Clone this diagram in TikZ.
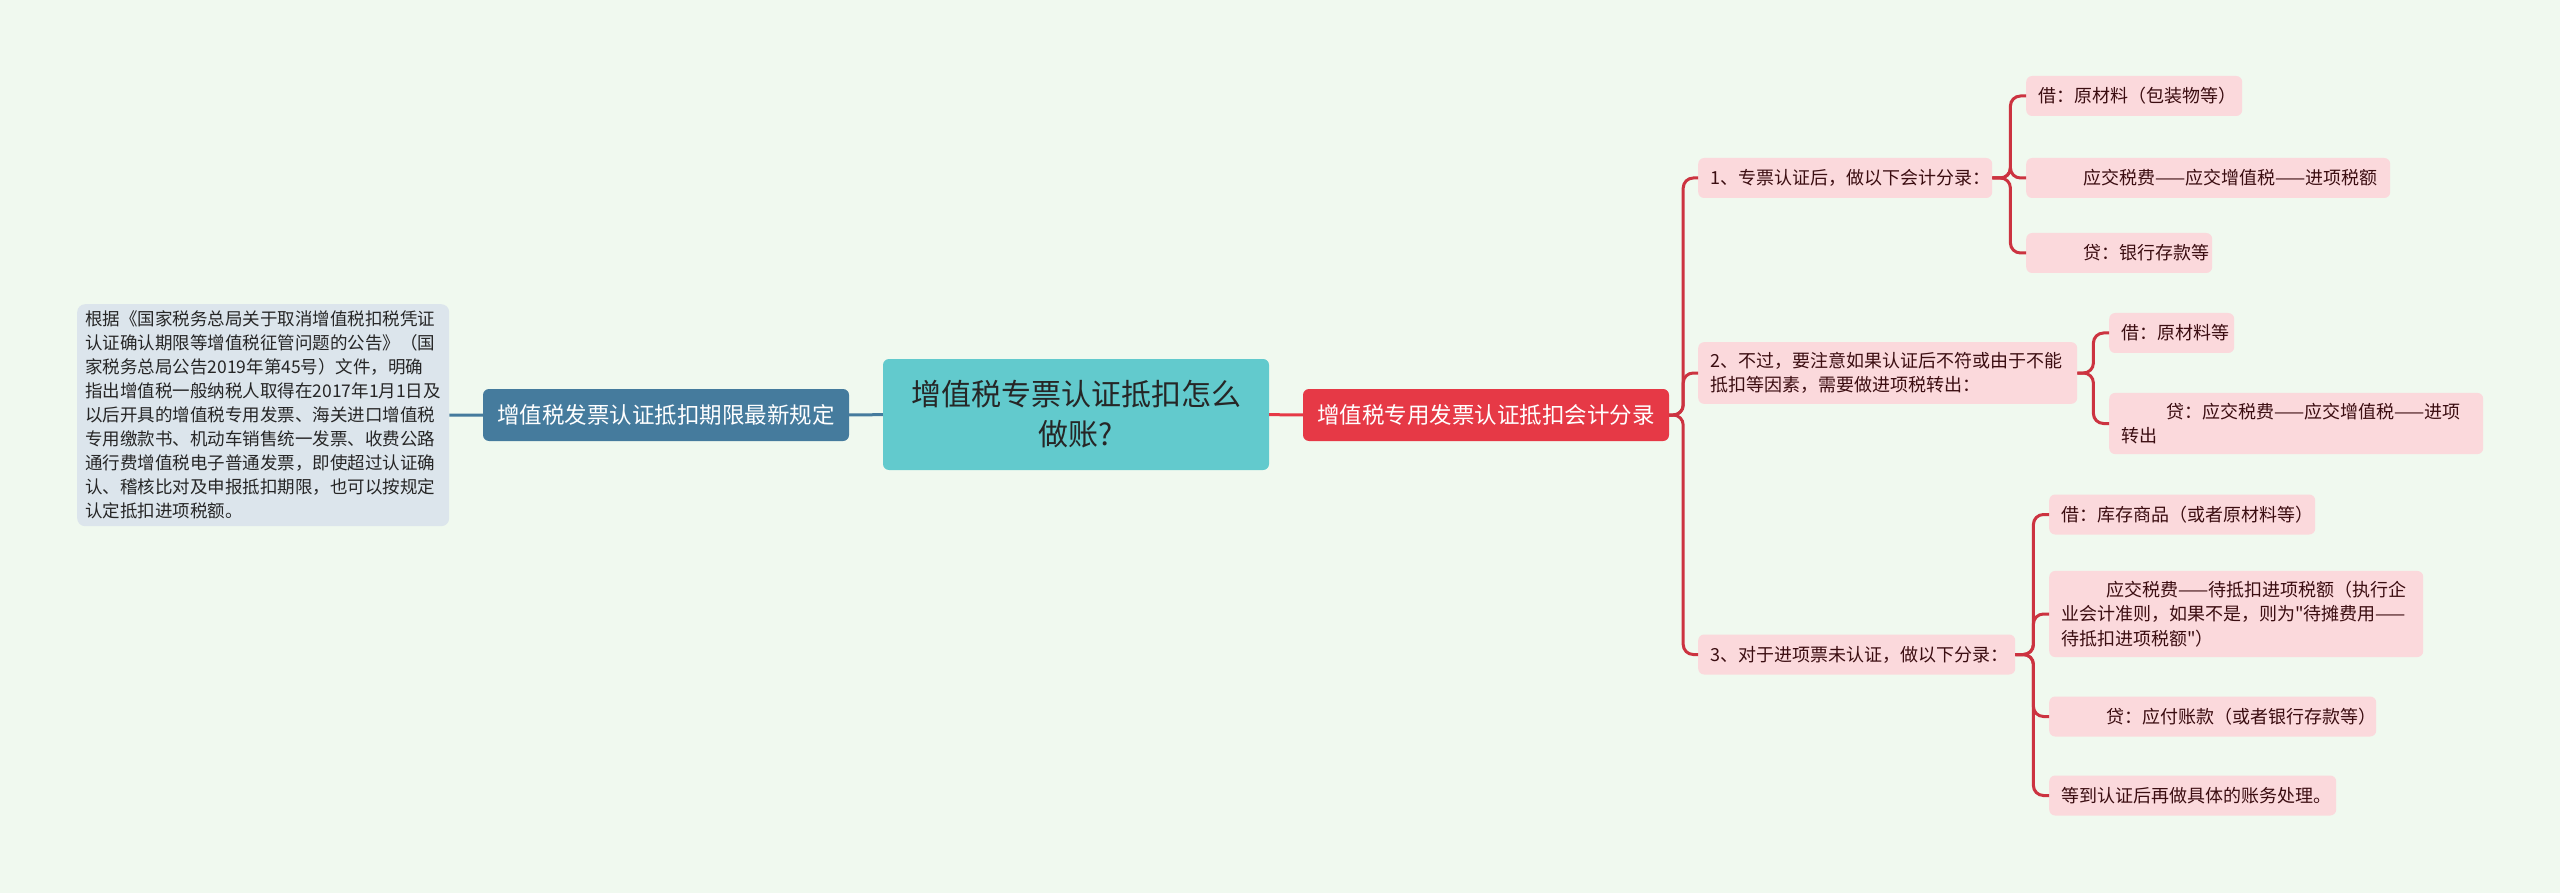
\documentclass[tikz,border=0pt]{standalone}
\usepackage{fontspec}
\setmainfont{Noto Sans CJK SC}[Ligatures=TeXOff]
\definecolor{bgcol}{HTML}{F0F9EF}
\definecolor{notecol}{HTML}{DCE5EC}
\definecolor{bluecol}{HTML}{457B9D}
\definecolor{teal}{HTML}{62CACD}
\definecolor{redcol}{HTML}{E63946}
\definecolor{pinkcol}{HTML}{FBD9DC}
\definecolor{pinktext}{HTML}{3B0D11}
\definecolor{linkred}{HTML}{CC3340}

\begin{document}
\begin{tikzpicture}
[x=1pt,y=-1pt,%
  leafbox/.style={fill=pinkcol,text=pinktext,rounded corners=6pt,anchor=west,%
    inner xsep=12pt,inner ysep=10pt,minimum height=40pt,align=left,%
    font=\fontsize{18}{24.5}\selectfont},%
  topicbox/.style={text=white,rounded corners=6pt,minimum width=366pt,%
    minimum height=52pt,font=\fontsize{22.5}{28}\selectfont},%
  redlink/.style={draw=linkred,line width=3pt,rounded corners=10pt,%
    to path={(\tikztostart.east) -- ++(#1,0) |- (\tikztotarget.west)}},%
  bluelink/.style={draw=bluecol,line width=3pt}]
\fill[bgcol] (0,0) rectangle (2560,893);
%% centre and main topics
\node (root) at (1076,414.5) [fill=teal,text=black!85,rounded corners=6pt,
  minimum width=386pt,minimum height=111pt,align=center,
  font=\fontsize{30}{40}\selectfont] {增值税专票认证抵扣怎么\\做账?};
\node (rule) at (666,415) [topicbox,fill=bluecol] {增值税发票认证抵扣期限最新规定};
\node (entry) at (1486,415) [topicbox,fill=redcol] {增值税专用发票认证抵扣会计分录};
\node (note) at (77,304) [anchor=north west,fill=notecol,text=black!85,
  rounded corners=8pt,inner xsep=8pt,inner ysep=5pt,text width=356pt,
  minimum height=222pt,align=left,font=\fontsize{17.5}{24}\selectfont]
  {根据《国家税务总局关于取消增值税扣税凭证\\认证确认期限等增值税征管问题的公告》（国\\家税务总局公告2019年第45号）文件，明确\\指出增值税一般纳税人取得在2017年1月1日及\\以后开具的增值税专用发票、海关进口增值税\\专用缴款书、机动车销售统一发票、收费公路\\通行费增值税电子普通发票，即使超过认证确\\认、稽核比对及申报抵扣期限，也可以按规定\\认定抵扣进项税额。};
%% steps and entries
\foreach \nodename/\x/\y/\w/\txt in {n1/1698/178/294/{1、专票认证后，做以下会计分录：},
  n2/1698/373/379/{2、不过，要注意如果认证后不符或由于不能\\抵扣等因素，需要做进项税转出：},
  n3/1698/654.5/317/{3、对于进项票未认证，做以下分录：},
  a1/2026/96/216/{借：原材料（包装物等）},
  a2/2026/178/364/{\mbox{\hspace*{2.5em}应交税费——应交增值税——进项税额}},
  a3/2026/253/186/{\hspace*{2.5em}贷：银行存款等},
  b1/2109/333/125/{借：原材料等},
  b2/2109/423.5/374/{\mbox{\hspace*{2.5em}贷：应交税费——应交增值税——进项}\\转出},
  c1/2049/514.5/266/{借：库存商品（或者原材料等）},
  c2/2049/614/374/{\mbox{\hspace*{2.5em}应交税费——待抵扣进项税额（执行企}\\\mbox{业会计准则，如果不是，则为"待摊费用——}\\待抵扣进项税额"）},
  c3/2049/716.5/327/{\hspace*{2.5em}贷：应付账款（或者银行存款等）},
  c4/2049/795.5/287/{等到认证后再做具体的账务处理。}}
{
  \node (\nodename) at (\x,\y) [leafbox,text width=\w pt-24pt] {\txt};
}
%% links
\path (root) edge[bluelink] (rule)
  (rule) edge[bluelink] (note)
  (root) edge[draw=redcol,line width=3pt] (entry);
\path
\foreach \startnode/\endnode/\d in {entry/n1/14, entry/n2/14, entry/n3/14,
  n1/a1/18, n1/a2/18, n1/a3/18, n2/b1/16, n2/b2/16,
  n3/c1/18, n3/c2/18, n3/c3/18, n3/c4/18} {
  (\startnode) edge[redlink=\d] (\endnode)
};
\end{tikzpicture}
\end{document}
